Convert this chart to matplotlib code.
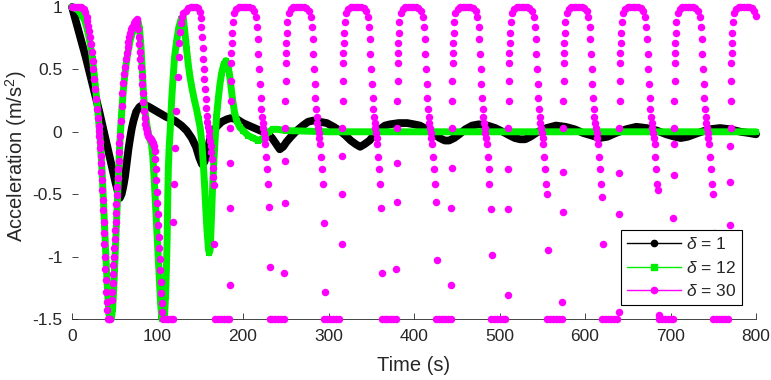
import matplotlib
matplotlib.use("Agg")
import matplotlib.pyplot as plt
from matplotlib.lines import Line2D

plt.rcParams['font.family'] = ['Liberation Sans', 'DejaVu Sans']
plt.rcParams['mathtext.fontset'] = 'custom'
plt.rcParams['mathtext.rm'] = 'Liberation Sans'
plt.rcParams['mathtext.it'] = 'Liberation Sans:italic'
plt.rcParams['axes.unicode_minus'] = False

# ---------------- data ----------------
x_ticks = [0, 100, 200, 300, 400, 500, 600, 700, 800]
y_ticks = [-1.5, -1, -0.5, 0, 0.5, 1]
y_tick_labels = ['-1.5', '-1', '-0.5', '0', '0.5', '1']
series_labels = [r'$\delta$ = 1', r'$\delta$ = 12', r'$\delta$ = 30']

# delta = 1 (black)
d1 = [(0, 1.0), (4, 0.9), (8, 0.8), (12, 0.7), (16, 0.6), (20, 0.49), (24, 0.38), (28, 0.27),
      (32, 0.16), (36, 0.04), (40, -0.08), (44, -0.2), (48, -0.32), (51, -0.41), (54, -0.49),
      (56, -0.53), (58, -0.5), (60, -0.44), (62, -0.36), (64, -0.25), (66, -0.14), (68, -0.05),
      (70, 0.03), (72, 0.09), (75, 0.16), (79, 0.2), (84, 0.22), (90, 0.2), (100, 0.16),
      (110, 0.12), (120, 0.09), (128, 0.05), (134, 0.01), (140, -0.05), (145, -0.12),
      (149, -0.21), (152, -0.26), (155, -0.24), (158, -0.16), (161, -0.07), (165, 0.0),
      (169, 0.04), (175, 0.08), (181, 0.1), (186, 0.11), (193, 0.1), (200, 0.07), (210, 0.04),
      (220, 0.01), (228, -0.01), (234, -0.05), (239, -0.1), (243, -0.14), (247, -0.12),
      (251, -0.08), (256, -0.04), (263, 0.01), (270, 0.05), (276, 0.08), (282, 0.09),
      (290, 0.08), (298, 0.07), (306, 0.04), (313, 0.01), (320, -0.03), (326, -0.07),
      (332, -0.1), (337, -0.12), (342, -0.1), (348, -0.07), (354, -0.02), (360, 0.02),
      (366, 0.05), (372, 0.06), (382, 0.07), (392, 0.07), (400, 0.06), (407, 0.05),
      (415, 0.02), (424, -0.02), (430, -0.05), (436, -0.07), (441, -0.07), (447, -0.05),
      (453, -0.02), (460, 0.02), (468, 0.05), (476, 0.06), (486, 0.05), (495, 0.03),
      (504, 0.0), (512, -0.03), (518, -0.05), (524, -0.06), (530, -0.06), (536, -0.04),
      (545, 0.0), (555, 0.03), (566, 0.05), (577, 0.04), (588, 0.02), (598, -0.01),
      (608, -0.03), (617, -0.05), (626, -0.04), (636, -0.01), (648, 0.02), (660, 0.04),
      (672, 0.03), (684, 0.01), (695, -0.02), (705, -0.04), (712, -0.05), (720, -0.04),
      (732, -0.01), (745, 0.02), (758, 0.03), (770, 0.02), (782, 0.0), (792, -0.01),
      (800, -0.02)]

# delta = 12 (green)
d12 = [(0, 1.0), (3, 0.99), (6, 0.98), (9, 0.96), (12, 0.93), (15, 0.89), (18, 0.82),
       (21, 0.72), (24, 0.58), (26, 0.46), (28, 0.32), (30, 0.17), (32, 0.02), (33, -0.07),
       (34, -0.18), (35, -0.3), (36, -0.44), (37, -0.6), (38, -0.75), (39, -0.9), (40, -1.05),
       (41, -1.2), (42, -1.33), (43, -1.45), (44, -1.5), (46, -1.5), (47.5, -1.42),
       (48.5, -1.3), (49.5, -1.15), (50.5, -0.98), (51.5, -0.8), (52.5, -0.63), (53.5, -0.45),
       (54.5, -0.29), (55.5, -0.15), (56.5, -0.02), (58, 0.15), (60, 0.33), (62, 0.47),
       (64, 0.58), (66, 0.66), (68, 0.73), (70, 0.78), (72, 0.82), (74, 0.86), (76, 0.88),
       (77.5, 0.88), (79, 0.82), (80.5, 0.7), (82, 0.52), (83.5, 0.32), (85, 0.18), (87, 0.08),
       (89, 0.0), (91, -0.06), (93, -0.1), (94.5, -0.2), (96, -0.36), (97.5, -0.56),
       (99, -0.76), (100.5, -0.96), (102, -1.17), (103.5, -1.36), (105, -1.5), (108, -1.5),
       (109.5, -1.31), (110.5, -1.08), (111.3, -0.85), (112, -0.53), (112.7, -0.29),
       (113.6, -0.13), (115, 0.03), (116.5, 0.25), (118.3, 0.44), (120, 0.6), (122.4, 0.73),
       (125, 0.84), (127.5, 0.9), (130, 0.92), (132, 0.8), (134, 0.66), (136, 0.54),
       (138, 0.44), (140, 0.36), (143, 0.26), (146, 0.17), (148, 0.1), (150, 0.03),
       (152, -0.1), (153.5, -0.25), (155, -0.42), (156.5, -0.62), (158, -0.8), (159.5, -0.93),
       (160.5, -0.97), (161.5, -0.95), (162.5, -0.8), (163.5, -0.62), (164.5, -0.43),
       (166, -0.22), (167.5, -0.05), (169, 0.12), (171, 0.26), (173, 0.38), (175, 0.47),
       (177.5, 0.54), (180, 0.57), (182, 0.54), (184, 0.47), (186, 0.36), (188, 0.25),
       (190, 0.16), (192.5, 0.09), (196, 0.04), (200, 0.01), (206, -0.03), (212, -0.05),
       (218, -0.07), (222, -0.06), (226, -0.03), (230, 0.0), (235, 0.02), (240, 0.02),
       (250, 0.01), (300, 0.0), (400, 0.0), (500, 0.0), (600, 0.0), (700, 0.0), (800, 0.0)]

# delta = 30 (magenta), first transient part
d30_start = [(0, 1.0), (2, 1.0), (4, 1.0), (6, 1.0), (8, 1.0), (10, 1.0), (12, 0.99), (14, 0.98),
             (15.5, 0.96), (17, 0.92), (18, 0.89), (19, 0.85), (20, 0.81), (21, 0.76), (22, 0.7),
             (23, 0.64), (24, 0.57), (25, 0.5), (26, 0.42), (27, 0.34), (28, 0.26), (29, 0.18),
             (30, 0.11), (31, 0.05), (31.5, 0.01), (32, -0.03), (32.5, -0.08), (33, -0.13),
             (33.5, -0.19), (34, -0.25), (34.5, -0.32), (35, -0.39), (35.5, -0.47), (36, -0.55),
             (36.5, -0.63), (37, -0.72), (37.5, -0.81), (38, -0.9), (38.5, -1.0), (39, -1.1),
             (39.5, -1.19), (40, -1.28), (40.5, -1.36), (41, -1.43),
             (42, -1.5), (43.5, -1.5), (45, -1.5),
             (46.5, -1.35), (47, -1.28), (47.5, -1.21), (48, -1.14), (48.5, -1.07), (49, -1.0),
             (49.5, -0.93), (50, -0.86), (50.5, -0.79), (51, -0.72), (51.5, -0.65), (52, -0.58),
             (52.5, -0.51), (53, -0.44), (53.5, -0.37), (54, -0.3), (54.5, -0.23), (55, -0.16),
             (55.5, -0.09), (56, -0.03), (57, 0.09), (58, 0.21), (59, 0.31), (60, 0.39),
             (61, 0.46), (62, 0.52), (63, 0.58), (64, 0.63), (65, 0.68), (66, 0.72), (67, 0.76),
             (68, 0.79), (69, 0.82), (70, 0.84), (72, 0.87), (74, 0.89), (75.5, 0.9),
             (76.5, 0.87), (77.2, 0.82), (77.9, 0.76), (78.6, 0.7), (79.3, 0.64), (80, 0.58),
             (80.7, 0.52), (81.4, 0.45), (82.1, 0.38), (82.8, 0.31), (83.5, 0.24), (84.2, 0.17),
             (84.9, 0.11), (85.6, 0.06), (86.4, 0.03), (87.2, 0.01), (88, -0.01), (89, -0.03),
             (90, -0.04), (91, -0.05), (92, -0.06), (93, -0.07), (94, -0.08), (95, -0.09),
             (96, -0.11), (96.7, -0.15), (97.3, -0.22), (97.9, -0.3), (98.5, -0.39),
             (99.1, -0.48), (99.7, -0.57), (100.3, -0.66), (100.9, -0.75), (101.5, -0.84),
             (102.1, -0.93), (102.7, -1.02), (103.3, -1.11), (103.9, -1.2), (104.5, -1.29),
             (105.1, -1.37), (105.7, -1.44),
             (106.5, -1.5), (109.5, -1.5), (112.5, -1.5), (115.5, -1.5), (118, -1.5),
             (118.3, -0.72), (118.9, -0.42), (120.3, -0.13), (122.2, 0.17), (123.6, 0.44),
             (124.6, 0.6), (125.4, 0.71), (126.3, 0.8), (127.3, 0.87), (128.5, 0.92), (130, 0.95),
             (133, 0.97), (136, 0.99), (139, 1.0), (142, 1.0), (145, 1.0), (147.5, 0.99),
             (149.5, 0.96), (150.5, 0.91),
             (151.3, 0.84), (152, 0.76), (152.7, 0.67), (153.4, 0.58), (154.1, 0.5), (154.8, 0.42),
             (155.5, 0.34), (156.2, 0.26), (156.9, 0.19), (157.6, 0.13), (158.3, 0.08), (159, 0.04),
             (159.8, 0.01), (160.6, -0.03), (161.4, -0.07), (162.2, -0.11), (163, -0.16),
             (163.7, -0.22), (164.4, -0.29), (165.1, -0.36), (165.8, -0.43), (166.3, -0.9),
             (167, -1.5), (170.5, -1.5), (174, -1.5), (177.5, -1.5), (181, -1.5), (183.5, -1.5)]

# delta = 30, the following cycles (times and values read cycle by cycle)
c1_t = [184.4, 184.7, 185.0, 185.3, 185.6, 185.9, 186.2, 186.5, 186.8, 187.2, 188.0, 189.5,
        192, 195, 198, 201, 204, 207, 210, 213, 215,
        216.5, 217.3, 218.1, 218.9, 219.7, 220.5, 221.3, 222.1, 222.9, 223.7, 224.5, 225.4, 226.3, 227.3, 228.3, 229.3,
        230.5, 232,
        231, 234.5, 238, 241.5, 245, 248]
c1_a = [-1.23, -0.61, -0.25, 0.03, 0.25, 0.41, 0.55, 0.63, 0.71, 0.79, 0.88, 0.95,
        0.98, 1.0, 1.0, 1.0, 1.0, 1.0, 0.99, 0.97, 0.92,
        0.84, 0.74, 0.62, 0.5, 0.38, 0.27, 0.18, 0.12, 0.07, 0.03, -0.01, -0.05, -0.1, -0.2, -0.3, -0.42,
        -0.6, -1.08,
        -1.5, -1.5, -1.5, -1.5, -1.5, -1.5]
c2_t = [248.4, 248.7, 249.0, 249.3, 249.6, 249.9, 250.2, 250.5, 250.8, 251.2, 252.0, 253.5,
        256, 259, 262, 265, 268, 271, 274, 277, 279,
        280.5, 281.3, 282.1, 282.9, 283.7, 284.5, 285.3, 286.1, 286.9, 287.7, 288.5, 289.4, 290.3, 291.3, 292.3, 293.3,
        294.5, 296,
        295, 298.5, 302, 305.5, 309, 312]
c2_a = [-1.13, -0.57, -0.23, 0.03, 0.25, 0.41, 0.55, 0.63, 0.71, 0.79, 0.88, 0.95,
        0.98, 1.0, 1.0, 1.0, 1.0, 1.0, 0.99, 0.97, 0.92,
        0.84, 0.74, 0.62, 0.5, 0.38, 0.27, 0.18, 0.12, 0.07, 0.03, -0.01, -0.05, -0.1, -0.2, -0.3, -0.42,
        -0.73, -1.28,
        -1.5, -1.5, -1.5, -1.5, -1.5, -1.5]
c3_t = [315.4, 315.7, 316.0, 316.3, 316.6, 316.9, 317.2, 317.5, 317.8, 318.2, 319.0, 320.5,
        323, 326, 329, 332, 335, 338, 341, 344, 346,
        347.5, 348.3, 349.1, 349.9, 350.7, 351.5, 352.3, 353.1, 353.9, 354.7, 355.5, 356.4, 357.3, 358.3, 359.3, 360.3,
        361.5, 363,
        362, 365.5, 369, 372.5, 376, 379]
c3_a = [-0.9, -0.5, -0.19, 0.03, 0.25, 0.41, 0.55, 0.63, 0.71, 0.79, 0.88, 0.95,
        0.98, 1.0, 1.0, 1.0, 1.0, 1.0, 0.99, 0.97, 0.92,
        0.84, 0.74, 0.62, 0.5, 0.38, 0.27, 0.18, 0.12, 0.07, 0.03, -0.01, -0.05, -0.1, -0.2, -0.3, -0.42,
        -0.61, -1.13,
        -1.5, -1.5, -1.5, -1.5, -1.5, -1.5]
c4_t = [379.4, 379.7, 380.0, 380.3, 380.6, 380.9, 381.2, 381.5, 381.8, 382.2, 383.0, 384.5,
        387, 390, 393, 396, 399, 402, 405, 408, 410,
        411.5, 412.3, 413.1, 413.9, 414.7, 415.5, 416.3, 417.1, 417.9, 418.7, 419.5, 420.4, 421.3, 422.3, 423.3, 424.3,
        425.5, 427,
        426, 429.5, 433, 436.5, 440, 443]
c4_a = [-1.1, -0.56, -0.25, 0.03, 0.25, 0.41, 0.55, 0.63, 0.71, 0.79, 0.88, 0.95,
        0.98, 1.0, 1.0, 1.0, 1.0, 1.0, 0.99, 0.97, 0.92,
        0.84, 0.74, 0.62, 0.5, 0.38, 0.27, 0.18, 0.12, 0.07, 0.03, -0.01, -0.05, -0.1, -0.2, -0.3, -0.42,
        -0.56, -1.03,
        -1.5, -1.5, -1.5, -1.5, -1.5, -1.5]
c5_t = [443.4, 443.7, 444.0, 444.3, 444.6, 444.9, 445.2, 445.5, 445.8, 446.2, 447.0, 448.5,
        451, 454, 457, 460, 463, 466, 469, 472, 474,
        475.5, 476.3, 477.1, 477.9, 478.7, 479.5, 480.3, 481.1, 481.9, 482.7, 483.5, 484.4, 485.3, 486.3, 487.3, 488.3,
        489.5, 491,
        490, 493.5, 497, 500.5, 504, 507]
c5_a = [-1.23, -0.61, -0.29, 0.03, 0.25, 0.41, 0.55, 0.63, 0.71, 0.79, 0.88, 0.95,
        0.98, 1.0, 1.0, 1.0, 1.0, 1.0, 0.99, 0.97, 0.92,
        0.84, 0.74, 0.62, 0.5, 0.38, 0.27, 0.18, 0.12, 0.07, 0.03, -0.01, -0.05, -0.1, -0.2, -0.3, -0.42,
        -0.62, -0.99,
        -1.5, -1.5, -1.5, -1.5, -1.5, -1.5]
c6_t = [509.4, 509.7, 510.0, 510.3, 510.6, 510.9, 511.2, 511.5, 511.8, 512.2, 513.0, 514.5,
        517, 520, 523, 526, 529, 532, 535, 538, 540,
        541.5, 542.3, 543.1, 543.9, 544.7, 545.5, 546.3, 547.1, 547.9, 548.7, 549.5, 550.4, 551.3, 552.3, 553.3, 554.3,
        555.5, 557,
        556, 559.5, 563, 566.5, 570, 573]
c6_a = [-1.31, -0.62, -0.3, 0.03, 0.25, 0.41, 0.55, 0.63, 0.71, 0.79, 0.88, 0.95,
        0.98, 1.0, 1.0, 1.0, 1.0, 1.0, 0.99, 0.97, 0.92,
        0.84, 0.74, 0.62, 0.5, 0.38, 0.27, 0.18, 0.12, 0.07, 0.03, -0.01, -0.05, -0.1, -0.2, -0.3, -0.42,
        -0.5, -0.95,
        -1.5, -1.5, -1.5, -1.5, -1.5, -1.5]
c7_t = [573.4, 573.7, 574.0, 574.3, 574.6, 574.9, 575.2, 575.5, 575.8, 576.2, 577.0, 578.5,
        581, 584, 587, 590, 593, 596, 599, 602, 604,
        605.5, 606.3, 607.1, 607.9, 608.7, 609.5, 610.3, 611.1, 611.9, 612.7, 613.5, 614.4, 615.3, 616.3, 617.3, 618.3,
        619.5, 621,
        620, 623.5, 627, 630.5, 634, 637]
c7_a = [-1.36, -0.64, -0.32, 0.03, 0.25, 0.41, 0.55, 0.63, 0.71, 0.79, 0.88, 0.95,
        0.98, 1.0, 1.0, 1.0, 1.0, 1.0, 0.99, 0.97, 0.92,
        0.84, 0.74, 0.62, 0.5, 0.38, 0.27, 0.18, 0.12, 0.07, 0.03, -0.01, -0.05, -0.1, -0.2, -0.3, -0.42,
        -0.52, -0.9,
        -1.5, -1.5, -1.5, -1.5, -1.5, -1.5]
c8_t = [639.4, 639.7, 640.0, 640.3, 640.6, 640.9, 641.2, 641.5, 641.8, 642.2, 643.0, 644.5,
        647, 650, 653, 656, 659, 662, 665, 668, 670,
        671.5, 672.3, 673.1, 673.9, 674.7, 675.5, 676.3, 677.1, 677.9, 678.7, 679.5, 680.4, 681.3, 682.3, 683.3, 684.3,
        685.5, 687,
        686, 689.5, 693, 696.5, 700, 703]
c8_a = [-1.44, -0.66, -0.33, 0.03, 0.25, 0.41, 0.55, 0.63, 0.71, 0.79, 0.88, 0.95,
        0.98, 1.0, 1.0, 1.0, 1.0, 1.0, 0.99, 0.97, 0.92,
        0.84, 0.74, 0.62, 0.5, 0.38, 0.27, 0.18, 0.12, 0.07, 0.03, -0.01, -0.05, -0.1, -0.2, -0.3, -0.42,
        -0.47, -1.47,
        -1.5, -1.5, -1.5, -1.5, -1.5, -1.5]
c9_t = [703.4, 703.7, 704.0, 704.3, 704.6, 704.9, 705.2, 705.5, 705.8, 706.2, 707.0, 708.5,
        711, 714, 717, 720, 723, 726, 729, 732, 734,
        735.5, 736.3, 737.1, 737.9, 738.7, 739.5, 740.3, 741.1, 741.9, 742.7, 743.5, 744.4, 745.3, 746.3, 747.3, 748.3,
        749.5, 751,
        750, 753.5, 757, 760.5, 764, 767]
c9_a = [-0.69, -0.35, -0.1, 0.03, 0.25, 0.41, 0.55, 0.63, 0.71, 0.79, 0.88, 0.95,
        0.98, 1.0, 1.0, 1.0, 1.0, 1.0, 0.99, 0.97, 0.92,
        0.84, 0.74, 0.62, 0.5, 0.38, 0.27, 0.18, 0.12, 0.07, 0.03, -0.01, -0.05, -0.1, -0.2, -0.3, -0.42,
        -0.5, -0.81,
        -1.5, -1.5, -1.5, -1.5, -1.5, -1.5]
c10_t = [769.4, 769.7, 770.0, 770.3, 770.6, 770.9, 771.2, 771.5, 771.8, 772.2, 773.0, 774.5,
         777, 780, 783, 786, 789, 792, 795, 798, 800]
c10_a = [-0.75, -0.4, -0.11, 0.03, 0.25, 0.41, 0.55, 0.63, 0.71, 0.79, 0.88, 0.95,
         0.98, 1.0, 1.0, 1.0, 1.0, 1.0, 0.99, 0.97, 0.93]

# ---------------- assemble ----------------
d1_t = [p[0] for p in d1]
d1_a = [p[1] for p in d1]
d12_t = [p[0] for p in d12]
d12_a = [p[1] for p in d12]
d30_t = [p[0] for p in d30_start] + c1_t + c2_t + c3_t + c4_t + c5_t + c6_t + c7_t + c8_t + c9_t + c10_t
d30_a = [p[1] for p in d30_start] + c1_a + c2_a + c3_a + c4_a + c5_a + c6_a + c7_a + c8_a + c9_a + c10_a

BLACK = '#000000'
GREEN = '#00EE00'
MAGENTA = '#FF00FF'
TXT = '#262626'

fig = plt.figure(figsize=(7.71, 3.80), dpi=100)
ax = fig.add_axes([72 / 771, 1 - 319 / 380, 684 / 771, 312 / 380])

ax.plot(d1_t, d1_a, '-', color=BLACK, lw=5.6, solid_capstyle='round', solid_joinstyle='round',
        zorder=2, clip_on=False)
ax.plot(d12_t, d12_a, '-', color=GREEN, lw=5.0, marker='s', ms=4.6, mew=0,
        solid_capstyle='round', solid_joinstyle='round', zorder=3, clip_on=False)
ax.plot(d30_t, d30_a, linestyle='none', marker='o', color=MAGENTA, ms=5.4, mew=0,
        zorder=4, clip_on=False)

ax.set_xlim(0, 800)
ax.set_ylim(-1.5, 1)
ax.set_xticks(x_ticks)
ax.set_yticks(y_ticks)
ax.set_yticklabels(y_tick_labels)

for s in ['top', 'right', 'left']:
    ax.spines[s].set_visible(False)
ax.spines['bottom'].set_color(TXT)
ax.spines['bottom'].set_linewidth(0.6)
ax.tick_params(direction='in', length=4, width=0.6, colors=TXT, labelsize=12.5)
ax.tick_params(axis='x', pad=7)
ax.tick_params(axis='y', pad=7)

ax.set_xlabel('Time (s)', fontsize=14.5, color=TXT)
ax.set_ylabel(r'Acceleration (m/s$^{\mathrm{2}}$)', fontsize=14.5, color=TXT)
ax.xaxis.set_label_coords(0.5, -0.12)
ax.yaxis.set_label_coords(-0.063, 0.52)

handles = [Line2D([], [], color=BLACK, lw=1, marker='o', ms=4.5),
           Line2D([], [], color=GREEN, lw=1, marker='s', ms=4.5),
           Line2D([], [], color=MAGENTA, lw=1, marker='o', ms=4.5)]
leg = ax.legend(handles, series_labels, loc='lower right', bbox_to_anchor=(0.98, 0.045),
                fontsize=12.5, frameon=True, fancybox=False, edgecolor='black', framealpha=1,
                borderpad=0.35, labelspacing=0.42, handlelength=3.1, handletextpad=0.3,
                borderaxespad=0)
leg.get_frame().set_linewidth(0.8)
leg.set_zorder(10)
for t in leg.get_texts():
    t.set_color(TXT)

fig.savefig('out.png', dpi=100)
